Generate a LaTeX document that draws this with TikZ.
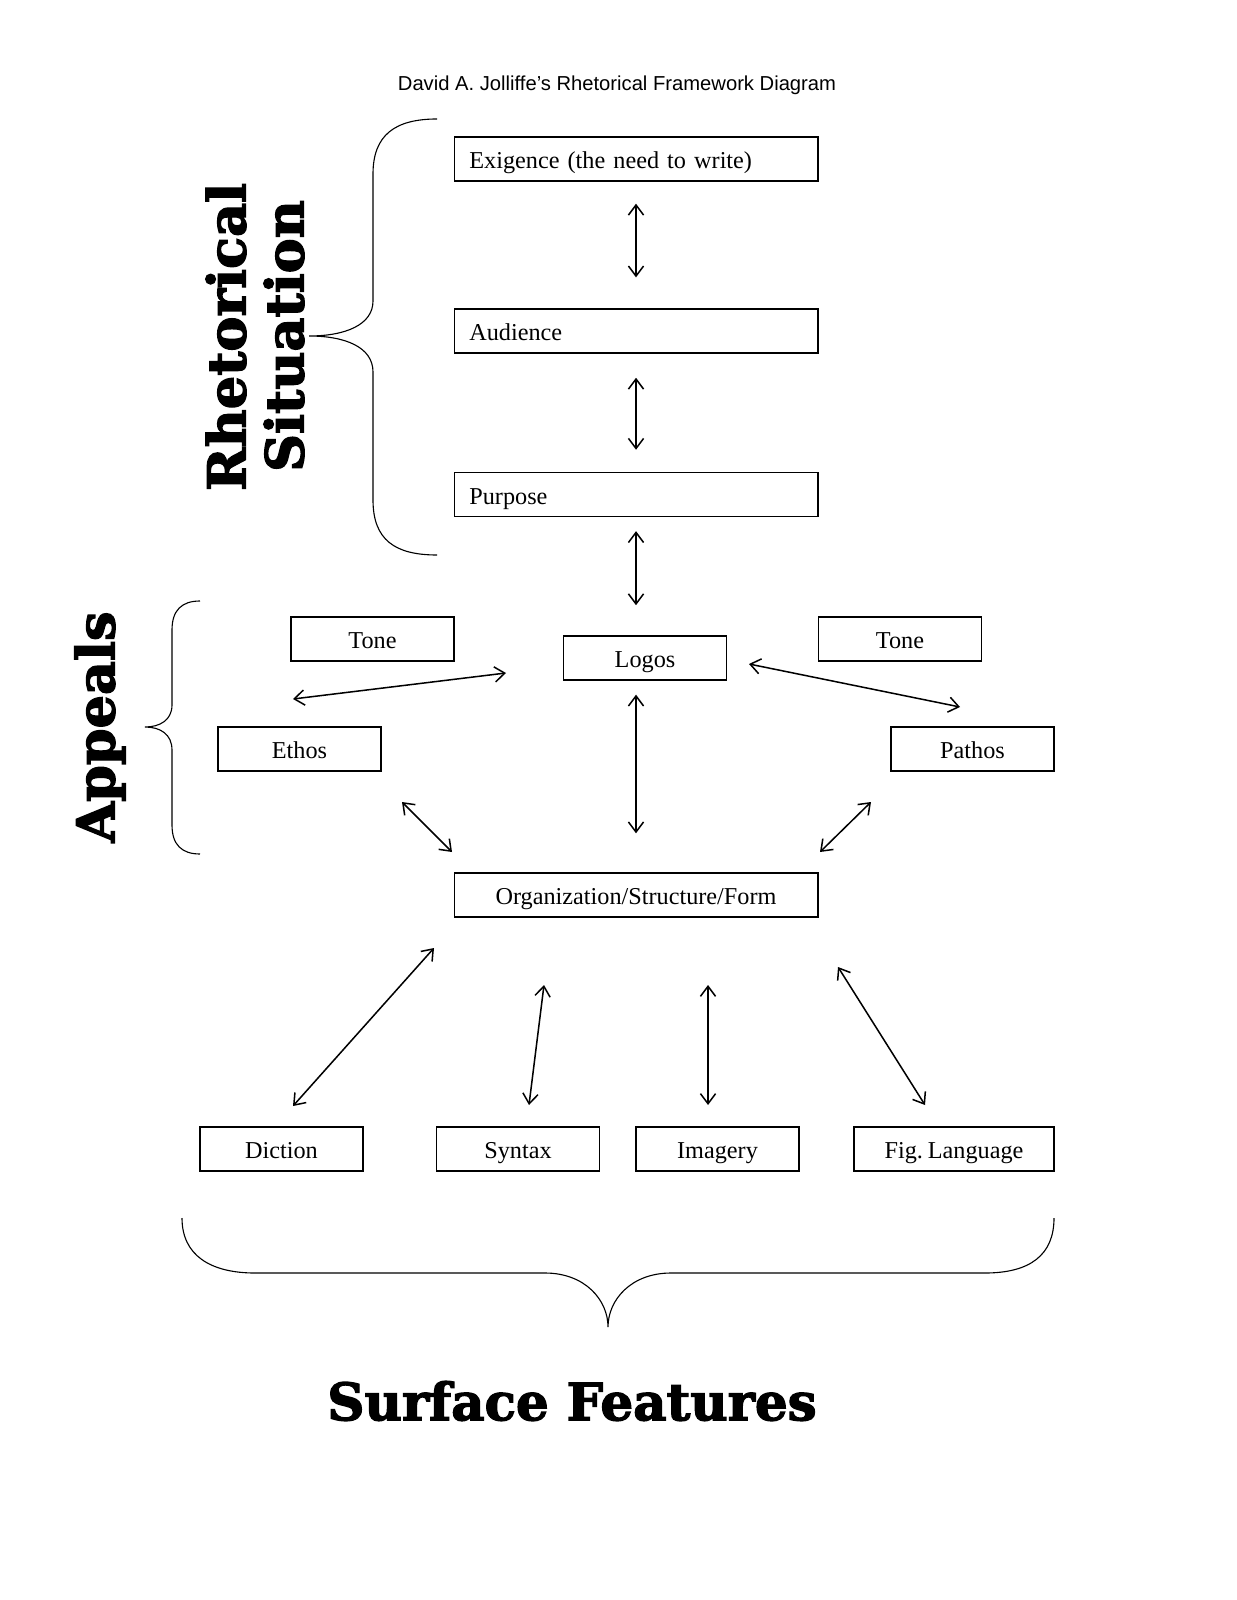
\documentclass[tikz,border=0pt]{standalone}
\usepackage{fontspec}
\setmainfont[WordSpace=0.8]{Liberation Serif}
\newfontfamily\titlefont{Liberation Sans}
\newfontfamily\heavyfont[FakeBold=2.5]{DejaVu Serif}
\usetikzlibrary{arrows.meta}

\tikzset{
  box/.style={draw, line width=0.7pt, minimum height=21.8pt, inner sep=0pt,
    text height=11pt, text depth=1.2pt, font=\fontsize{12}{14}\selectfont\frenchspacing},
  widebox/.style={box, text width=165pt, inner xsep=7.5pt, align=left},
  midbox/.style={box, minimum width=180pt},
  smallbox/.style={box, minimum width=80.7pt},
  bigword/.style={font=\heavyfont\bfseries\fontsize{26}{30}\selectfont, inner sep=0pt},
  dbl/.style={<->, line width=0.75pt},
  brace/.style={line width=0.55pt}
}

\begin{document}
\begin{tikzpicture}[x=0.4951pt, y=-0.4951pt, >={Straight Barb[length=5pt,width=7.5pt]}]
    \useasboundingbox (0,0) rectangle (1236,1600);

    % Title
    \node[font=\titlefont\fontsize{10}{12}\selectfont] (title) at (617,85) {David A. Jolliffe’s Rhetorical Framework Diagram};

    % Rhetorical situation
    \node[widebox] (exig) at (636,159) {Exigence (the need to write)};
    \node[widebox] (aud) at (636,331) {Audience};
    \node[widebox] (purp) at (636,494.5) {Purpose};

    % Appeals
    \node[smallbox] (logos) at (645,658) {Logos};
    \node[smallbox] (toneL) at (372.5,639) {Tone};
    \node[smallbox] (toneR) at (900,639) {Tone};
    \node[smallbox] (ethos) at (299.5,749) {Ethos};
    \node[smallbox] (pathos) at (972.5,749) {Pathos};
    \node[midbox] (org) at (636,895) {Organization/Structure/Form};

    % Surface features
    \node[smallbox] (dic) at (281.5,1149) {Diction};
    \node[smallbox] (syn) at (518,1149) {Syntax};
    \node[smallbox] (img) at (717.5,1149) {Imagery};
    \node[box, minimum width=99pt] (fig) at (954,1149) {Fig. Language};

    % Vertical arrows
    \draw[dbl, shorten <=10.9pt, shorten >=15.3pt] (exig) -- (aud);
    \draw[dbl, shorten <=11.9pt, shorten >=10.9pt] (aud) -- (purp);
    \draw[dbl, shorten <=6.9pt, shorten >=14.9pt] (purp.south) -- (purp.south |- logos.north);
    \draw[dbl, shorten <=6.9pt, shorten >=19.3pt] (org.north |- logos.south) -- (org.north);

    % Free arrow ends
    \coordinate (ethA) at (293,699);
    \coordinate (ethB) at (506,673);
    \coordinate (patA) at (749,664);
    \coordinate (patB) at (960,707);
    \coordinate (ethC) at (402,802);
    \coordinate (ethD) at (452,852);
    \coordinate (patC) at (871,802);
    \coordinate (patD) at (820,852);
    \coordinate (dicA) at (434,948);
    \coordinate (dicB) at (293,1106);
    \coordinate (synA) at (544,985);
    \coordinate (synB) at (529,1105);
    \coordinate (imgA) at (708,985);
    \coordinate (imgB) at (708,1105);
    \coordinate (figA) at (838,967);
    \coordinate (figB) at (925,1105);

    % Diagonal arrows
    \draw[dbl] (ethA) -- (ethB);
    \draw[dbl] (patA) -- (patB);
    \draw[dbl] (ethC) -- (ethD);
    \draw[dbl] (patC) -- (patD);
    \draw[dbl] (dicA) -- (dicB);
    \draw[dbl] (synA) -- (synB);
    \draw[dbl] (imgA) -- (imgB);
    \draw[dbl] (figA) -- (figB);

    % Braces
    \draw[brace] (437,119) .. controls (395,119) and (373,135) .. (373,174) -- (373,301)
        .. controls (373,325) and (345,336) .. (309,336)
        .. controls (345,336) and (373,347) .. (373,372) -- (373,500)
        .. controls (373,540) and (395,555) .. (437,555);
    \draw[brace] (200,601) .. controls (182,601) and (172,610) .. (172,630) -- (172,705)
        .. controls (172,720) and (160,727) .. (145,727)
        .. controls (160,727) and (172,734) .. (172,750) -- (172,825)
        .. controls (172,845) and (182,854) .. (200,854);
    \draw[brace] (182,1218) .. controls (182,1255) and (210,1273) .. (255,1273) -- (545,1273)
        .. controls (585,1273) and (608,1300) .. (608,1327)
        .. controls (608,1300) and (631,1273) .. (671,1273) -- (985,1273)
        .. controls (1030,1273) and (1054,1255) .. (1054,1218);

    % Group labels
    \node[bigword, rotate=90] (rhet) at (226,337) {Rhetorical};
    \node[bigword, rotate=90] (sit) at (284,336) {Situation};
    \node[bigword, rotate=90] (app) at (100,727) {Appeals};
    \node[bigword, font=\heavyfont\bfseries\fontsize{25.5}{30}\selectfont] (surf) at (572,1401) {Surface Features};
\end{tikzpicture}
\end{document}
